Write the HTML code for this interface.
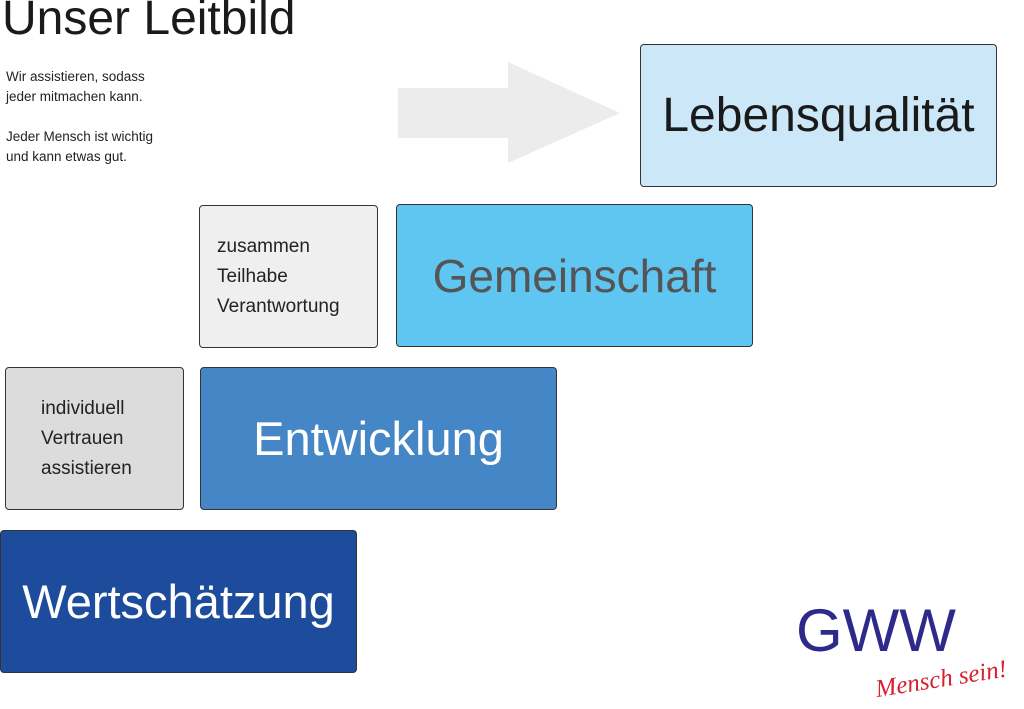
<!DOCTYPE html>
<html><head><meta charset="utf-8"><style>
body{margin:0;width:1024px;height:709px;background:#fff;position:relative;overflow:hidden;font-family:"Liberation Sans",sans-serif}
.a{position:absolute;box-sizing:border-box;border:1px solid #333;border-radius:4px;display:flex;align-items:center;justify-content:center}
.g{justify-content:flex-start;padding-left:17px;font-size:20px;line-height:30px;color:#222}
.t{position:absolute}
</style></head><body>
<div class="t" style="left:2px;top:-9px;font-size:48px;color:#1a1a1a;">Unser Leitbild</div>
<div class="t" style="left:6px;top:67px;font-size:13.5px;line-height:20px;color:#222;">Wir assistieren, sodass<br>jeder mitmachen kann.<br><br>Jeder Mensch ist wichtig<br>und kann etwas gut.</div>
<svg class="t" style="left:0;top:0" width="1024" height="709"><polygon points="398,88 508,88 508,62 620,113 508,163 508,138 398,138" fill="#ececec"/></svg>
<div class="a" style="left:640px;top:44px;width:357px;height:143px;background:#cce8f8;font-size:48px;color:#1a1a1a;">Lebensqualität</div>
<div class="a g" style="left:199px;top:205px;width:179px;height:143px;background:#efefef;font-size:19px;">zusammen<br>Teilhabe<br>Verantwortung</div>
<div class="a" style="left:396px;top:204px;width:357px;height:143px;background:#5fc5f1;font-size:46px;color:#555;">Gemeinschaft</div>
<div class="a g" style="left:5px;top:367px;width:179px;height:143px;background:#dcdcdc;padding-left:35px;font-size:19px;">individuell<br>Vertrauen<br>assistieren</div>
<div class="a" style="left:200px;top:367px;width:357px;height:143px;background:#4486c6;font-size:47px;color:#fff;">Entwicklung</div>
<div class="a" style="left:0px;top:530px;width:357px;height:143px;background:#1d4c9c;font-size:47px;color:#fff;">Wertschätzung</div>
<div class="t" style="left:796px;top:596px;font-size:60px;color:#2e2a8a;letter-spacing:0px;">GWW</div>
<div class="t" style="left:878px;top:676px;font-size:25px;color:#d4202f;font-style:italic;font-family:'Liberation Serif',serif;transform:rotate(-9deg);transform-origin:left bottom;">Mensch sein!</div>
</body></html>
